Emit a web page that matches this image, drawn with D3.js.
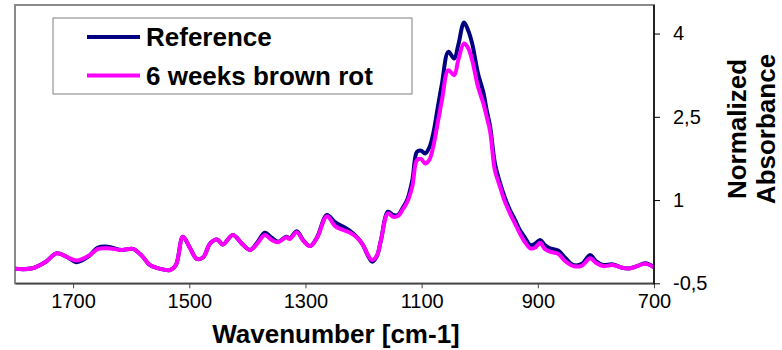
<!DOCTYPE html>
<html>
<head>
<meta charset="utf-8">
<script src="https://cdn.jsdelivr.net/npm/d3@7"></script>
<style>
  html, body { margin: 0; padding: 0; background: #fff; }
  svg { display: block; font-family: "Liberation Sans", Arial, sans-serif; }
</style>
</head>
<body>
<svg id="chart" width="782" height="350"></svg>
<script>
// ---- data ----
const wavenumber = [1800,1770,1748,1728,1710,1694,1674,1657,1640,1616,1597,1581,1568,1550,1533,1523,1511,1499,1487,1476,
  1464,1452,1442,1425,1409,1395,1382,1370,1358,1347,1333,1327,1315,1304,1292,1280,1263,1249,1235,1223,
  1211,1201,1192,1185,1177,1170,1158,1149,1141,1132,1125,1116,1108,1101,1094,1087,1080,1073,1065,1054,
  1044,1037,1027,1020,1013,1003,994,988,982,974,966,957,948,939,931,922,913,905,896,888,
  879,865,853,839,824,810,800,788,771,755,741,729,715,700];
const reference = [-0.24,-0.23,-0.12,0.04,-0.03,-0.12,-0.02,0.145,0.16,0.10,0.12,-0.01,-0.17,-0.24,-0.26,-0.17,0.34,0.14,-0.06,-0.03,
  0.22,0.29,0.20,0.37,0.21,0.10,0.25,0.41,0.32,0.25,0.34,0.31,0.44,0.28,0.17,0.33,0.73,0.60,0.52,0.44,
  0.33,0.19,-0.01,-0.11,-0.01,0.28,0.79,0.73,0.73,0.87,1.00,1.36,1.87,1.89,1.84,1.94,2.20,2.62,3.10,3.67,
  3.55,3.79,4.20,4.06,3.82,3.28,2.95,2.62,2.32,1.67,1.34,1.05,0.82,0.64,0.46,0.32,0.19,0.21,0.28,0.19,
  0.13,0.09,-0.04,-0.17,-0.15,0.01,-0.10,-0.17,-0.16,-0.22,-0.23,-0.19,-0.14,-0.21];
const brownRot = [-0.24,-0.23,-0.12,0.04,-0.03,-0.09,-0.01,0.12,0.13,0.10,0.12,-0.01,-0.17,-0.24,-0.26,-0.17,0.34,0.14,-0.06,-0.03,
  0.22,0.29,0.20,0.37,0.21,0.10,0.23,0.37,0.28,0.24,0.33,0.30,0.42,0.27,0.17,0.32,0.71,0.53,0.46,0.41,
  0.32,0.19,0.00,-0.08,0.00,0.28,0.76,0.70,0.71,0.84,0.96,1.25,1.72,1.74,1.66,1.72,1.96,2.35,2.80,3.34,
  3.25,3.52,3.82,3.74,3.52,3.04,2.75,2.50,2.23,1.54,1.27,0.98,0.76,0.57,0.40,0.24,0.13,0.14,0.23,0.12,
  0.07,0.03,-0.10,-0.19,-0.18,-0.05,-0.13,-0.19,-0.17,-0.22,-0.23,-0.19,-0.15,-0.21];
const seriesNames = ["Reference", "6 weeks brown rot"];
const seriesColors = ["#000080", "#ff00ff"];
const xTicks = [1700, 1500, 1300, 1100, 900, 700];
const yTicks = [-0.5, 1, 2.5, 4];
const yTickLabels = ["-0,5", "1", "2,5", "4"];
const xTitle = "Wavenumber [cm-1]";
const yTitleLines = ["Normalized", "Absorbance"];

// ---- layout ----
const svg = d3.select("#chart");
const L = 15, R = 654, T = 5, B = 283.3;
const x = d3.scaleLinear().domain([1800, 700]).range([L, R]);
const y = d3.scaleLinear().domain([-0.5, 4.5]).range([B, B - 5 * 55.5]);

// plot area frame (gray, Excel-like)
svg.append("rect").attr("x", L).attr("y", T).attr("width", R - L).attr("height", B - T)
  .attr("fill", "#fff").attr("stroke", "#8a8a8a").attr("stroke-width", 2);

// clip
svg.append("clipPath").attr("id", "clip").append("rect")
  .attr("x", L).attr("y", T).attr("width", R - L).attr("height", B - T);

const pts = (vals) => wavenumber.map((w, i) => [w, vals[i]]);
const line = d3.line().x(d => x(d[0])).y(d => y(d[1])).curve(d3.curveCatmullRom.alpha(0.5));

const g = svg.append("g").attr("clip-path", "url(#clip)");
[reference, brownRot].forEach((vals, i) => {
  g.append("path").attr("d", line(pts(vals)))
    .attr("fill", "none").attr("stroke", seriesColors[i]).attr("stroke-width", 4)
    .attr("stroke-linejoin", "round").attr("stroke-linecap", "round");
});

// x axis
const xAxis = d3.axisBottom(x).tickValues(xTicks).tickSize(5).tickSizeOuter(0).tickPadding(6)
  .tickFormat(d3.format("d"));
const gx = svg.append("g").attr("transform", `translate(0,${B})`).call(xAxis);
gx.select(".domain").attr("stroke", "#444").attr("stroke-width", 1.5);
gx.selectAll(".tick line").attr("stroke", "#444");
gx.selectAll(".tick text").attr("font-size", 20).attr("font-family", "Liberation Sans, Arial, sans-serif")
  .attr("fill", "#000");

// y axis (right)
const yAxis = d3.axisRight(y).tickValues(yTicks).tickSize(6).tickSizeOuter(0).tickPadding(13)
  .tickFormat((d, i) => yTickLabels[i]);
const gy = svg.append("g").attr("transform", `translate(${R},0)`).call(yAxis);
gy.select(".domain").attr("stroke", "#000").attr("stroke-width", 1.5)
  .attr("d", `M0,${T}V${B + 1}`);
gy.selectAll(".tick line").attr("stroke", "#000");
gy.selectAll(".tick text").attr("font-size", 20).attr("font-family", "Liberation Sans, Arial, sans-serif")
  .attr("fill", "#000");

// axis titles
svg.append("text").attr("x", 336).attr("y", 343).attr("text-anchor", "middle")
  .attr("font-size", 26).attr("font-weight", "bold").text(xTitle);
yTitleLines.forEach((t, i) => {
  svg.append("text").attr("transform", `translate(${746 + i * 29},129) rotate(-90)`)
    .attr("text-anchor", "middle").attr("font-size", 26).attr("font-weight", "bold").text(t);
});

// legend
const lg = svg.append("g");
lg.append("rect").attr("x", 53).attr("y", 18).attr("width", 359).attr("height", 76)
  .attr("fill", "#fff").attr("stroke", "#808080").attr("stroke-width", 1);
seriesNames.forEach((n, i) => {
  const ly = 37 + i * 38.5;
  lg.append("line").attr("x1", 87).attr("x2", 140).attr("y1", ly).attr("y2", ly)
    .attr("stroke", seriesColors[i]).attr("stroke-width", 4);
  lg.append("text").attr("x", 146).attr("y", ly + 9).attr("font-size", 26).attr("font-weight", "bold")
    .text(n);
});
</script>
</body>
</html>
